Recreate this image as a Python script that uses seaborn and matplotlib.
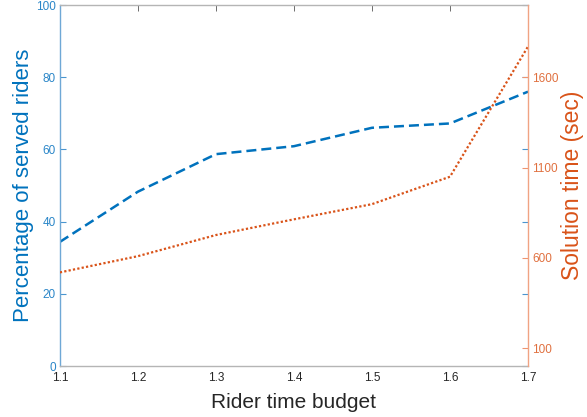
import matplotlib
matplotlib.use("Agg")
import matplotlib.pyplot as plt
import pandas as pd
import seaborn as sns

budget = [1.1, 1.2, 1.3, 1.4, 1.5, 1.6, 1.7]
served_pct = [34.4, 48.3, 58.7, 60.9, 66.0, 67.2, 76.0]
solve_time = [519, 609, 726, 813, 897, 1049, 1770]

BLUE = "#0072BD"
ORANGE = "#D95319"
GREY = "#262626"

df = pd.DataFrame({"budget": budget, "served": served_pct, "time": solve_time})

sns.set_theme(style="white")
plt.rcParams["font.family"] = ["Liberation Sans", "DejaVu Sans"]

fig, ax = plt.subplots(figsize=(5.87, 4.17), dpi=100)
fig.subplots_adjust(left=0.102, right=0.8995, bottom=0.122, top=0.988)
ax2 = ax.twinx()

sns.lineplot(data=df, x="budget", y="served", ax=ax, color=BLUE, lw=1.8)
ax.lines[0].set_dashes((4, 2))
sns.lineplot(data=df, x="budget", y="time", ax=ax2, color=ORANGE, lw=1.6)
ax2.lines[0].set_dashes((1, 1))

ax.set_xlim(1.1, 1.7)
ax.set_ylim(0, 100)
ax2.set_ylim(0, 2000)
ax.set_xticks(budget)
ax.set_xticklabels([f"{b:.1f}" for b in budget])
ax.set_yticks([0, 20, 40, 60, 80, 100])
ax2.set_yticks([100, 600, 1100, 1600])

ax.set_xlabel("Rider time budget", fontsize=15, color=GREY, labelpad=7)
ax.set_ylabel("Percentage of served riders", fontsize=16, color=BLUE, labelpad=1)
ax2.set_ylabel("Solution time (sec)", fontsize=16.5, color=ORANGE, labelpad=2)

ax.tick_params(axis="x", direction="in", length=4, width=0.6, colors="#555555",
               labelcolor=GREY, labelsize=8.5, top=True, pad=4)
ax.tick_params(axis="y", direction="in", length=4, width=0.8, colors="#4A95CF",
               labelcolor="#2A86C8", labelsize=8.5, left=True, right=True, pad=3)
ax2.tick_params(axis="y", direction="in", length=4, width=0.8, colors="#EE9470",
                labelcolor="#E0703F", labelsize=8.5, right=True, pad=3)

for s in ["top", "bottom"]:
    ax.spines[s].set_color("#B5B5B5")
    ax.spines[s].set_linewidth(1.0)
    ax2.spines[s].set_visible(False)
ax.spines["left"].set_color("#6FA8D6")
ax.spines["left"].set_linewidth(1.0)
ax.spines["right"].set_visible(False)
ax2.spines["left"].set_visible(False)
ax2.spines["right"].set_color("#F0A383")
ax2.spines["right"].set_linewidth(1.0)

fig.savefig("out.png", dpi=100)
